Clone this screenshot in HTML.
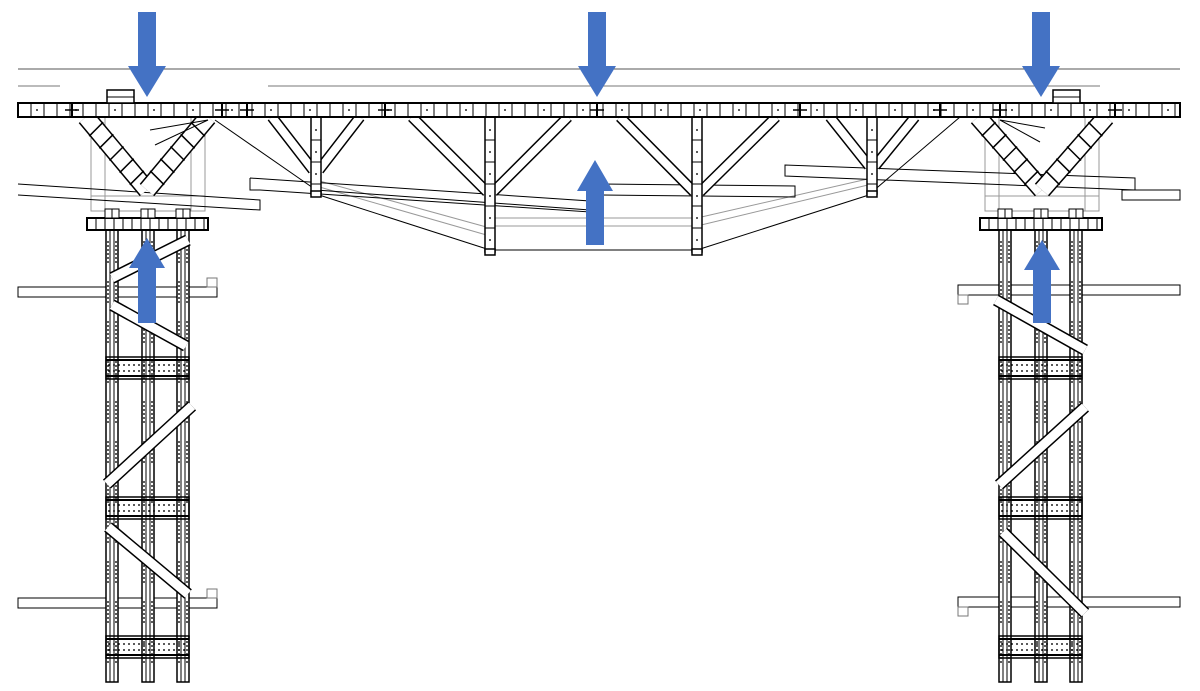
<!DOCTYPE html>
<html><head><meta charset="utf-8"><style>html,body{margin:0;padding:0;background:#fff;width:1200px;height:691px;overflow:hidden}svg{display:block}</style></head>
<body>
<svg id="s" width="1200" height="691" viewBox="0 0 1200 691" xmlns="http://www.w3.org/2000/svg">
<g fill="none" stroke="#000" stroke-width="1">
<line x1="18" y1="69" x2="1180" y2="69" stroke="#555"/>
<line x1="18" y1="86" x2="60" y2="86" stroke="#777"/>
<line x1="268" y1="86" x2="1100" y2="86" stroke="#777"/>
<g stroke="#999">
<rect x="91" y="117" width="114" height="94"/><line x1="105" y1="117" x2="105" y2="211"/><line x1="191" y1="117" x2="191" y2="211"/><line x1="91" y1="196" x2="205" y2="196"/>
<rect x="985" y="117" width="114" height="94"/><line x1="999" y1="117" x2="999" y2="211"/><line x1="1085" y1="117" x2="1085" y2="211"/><line x1="985" y1="196" x2="1099" y2="196"/>
<line x1="316" y1="180" x2="490" y2="228"/><line x1="316" y1="186" x2="490" y2="236"/><line x1="490" y1="218" x2="697" y2="218"/><line x1="490" y1="226" x2="697" y2="226"/><line x1="697" y1="218" x2="872" y2="178"/><line x1="697" y1="226" x2="872" y2="184"/>
</g>
<polyline points="18,184 260,200 260,210 18,195"/>
<polyline points="250,178 590,201 590,212 260,190 250,190 250,178"/>
<polyline points="602,184 795,186 795,197 602,195"/>
<polyline points="1135,190 785,176 785,165 1135,178 1135,190"/>
<rect x="1122" y="190" width="58" height="10"/>
<line x1="215" y1="120" x2="316" y2="190"/>
<line x1="960" y1="117" x2="872" y2="192"/>
<line x1="316" y1="194" x2="490" y2="250"/>
<line x1="316" y1="190" x2="590" y2="210"/>
<line x1="490" y1="250" x2="697" y2="250"/>
<line x1="697" y1="250" x2="872" y2="194"/>
<rect x="18" y="287" width="199" height="10"/><rect x="207" y="278" width="10" height="9" stroke="#777"/>
<rect x="18" y="598" width="199" height="10"/><rect x="207" y="589" width="10" height="9" stroke="#777"/>
<rect x="958" y="285" width="222" height="10"/><rect x="958" y="295" width="10" height="9" stroke="#777"/>
<rect x="958" y="597" width="222" height="10"/><rect x="958" y="607" width="10" height="9" stroke="#777"/>
</g>
<g id="dyn"></g>
<g fill="#4472C4">
<polygon points="138,12 156,12 156,66 166,66 147,97 128,66 138,66"/>
<polygon points="588,12 606,12 606,66 616,66 597,97 578,66 588,66"/>
<polygon points="1032,12 1050,12 1050,66 1060,66 1041,97 1022,66 1032,66"/>
<polygon points="586,245 604,245 604,191 613,191 595,160 577,191 586,191"/>
<polygon points="138,323 156,323 156,268 165,268 147,238 129,268 138,268"/>
<polygon points="1033,323 1051,323 1051,270 1060,270 1042,240 1024,270 1033,270"/>
</g>
</svg>
<script>
const g=document.getElementById('dyn');let h='';
function L(a,b,c,d,w,col){h+=`<line x1="${a}" y1="${b}" x2="${c}" y2="${d}" stroke="${col||'#000'}" stroke-width="${w||1}"/>`;}
function R(x,y,w,ht,f,sw){h+=`<rect x="${x}" y="${y}" width="${w}" height="${ht}" fill="${f||'#fff'}" stroke="#000" stroke-width="${sw||1}"/>`;}
function D(x,y){h+=`<rect x="${x-0.8}" y="${y-0.8}" width="1.6" height="1.6" fill="#000"/>`;}
function member(a,b,c,d,w){L(a,b,c,d,w+3);L(a,b,c,d,w,'#fff');}
function tower(cols,top,bot,bands,braces){
 cols.forEach(x=>{R(x,top,12,bot-top,'#fff',1.5);L(x+4,top,x+4,bot);L(x+8,top,x+8,bot);
  for(let y=top+8;y<bot;y+=4){if((y%40)<24){D(x+2,y);D(x+10,y);}}});
 bands.forEach(y=>{R(cols[0],y,cols[2]+12-cols[0],22,'none',1.5);L(cols[0],y+3,cols[2]+12,y+3,2);L(cols[0],y+19,cols[2]+12,y+19,2);
  for(let x=cols[0]+3;x<cols[2]+12;x+=5){D(x,y+8);D(x,y+14);}});
 braces.forEach(b=>{member(b[0],b[1],b[2],b[3],9);});
}
tower([106,142,177],230,682,[357,497,636],[[112,278,188,240],[112,305,186,346],[107,484,192,406],[108,527,188,594]]);
tower([999,1035,1070],230,682,[357,497,636],[[996,300,1085,350],[999,485,1085,407],[1003,532,1085,613]]);
function cap(x0,x1,cols){R(x0,218,x1-x0,12,'#fff',2);for(let x=x0+9;x<x1;x+=9)L(x,218,x,230);
 cols.forEach(c=>{R(c-1,209,14,9);L(c+6,209,c+6,218);});}
cap(87,208,[106,142,177]);cap(980,1102,[999,1035,1070]);
function V(cx,l,r){member(l,117,cx,190,16);member(r,117,cx,190,16);
 for(let i=1;i<6;i++){let t=i/6;let x1=l+(cx-l)*t,y1=117+73*t;L(x1-7,y1+7,x1+7,y1-7,1.5);let x2=r+(cx-r)*t;L(x2-7,y1-7,x2+7,y1+7,1.5);}}
V(147,86,208);V(1042,978,1106);
function truss(x,bot,l,r,jy){member(l,117,x-3,jy,8);member(r,117,x+3,jy,8);R(x-5,117,10,bot-117,'#fff',1.5);
 for(let y=140;y<bot;y+=22){L(x-5,y,x+5,y);D(x,y-10);}R(x-5,bot-3,10,6,'#fff',1.5);}
truss(316,194,272,360,170);truss(490,252,412,568,192);truss(697,252,620,776,192);truss(872,194,830,915,166);
R(18,103,1162,14,'#fff',2);
for(let x=18,i=0;x<1180;x+=13,i++){L(x,103,x,117,1);if(i%3==1)D(x+6,110);}
[[72,110],[222,110],[247,110],[385,110],[597,110],[800,110],[940,110],[1000,110],[1115,110]].forEach(p=>{L(p[0]-7,p[1],p[0]+7,p[1],1.5);L(p[0],103,p[0],117,2);});
R(107,90,27,13,'#fff',1.5);L(107,97,134,97);R(1053,90,27,13,'#fff',1.5);L(1053,97,1080,97);
L(208,120,150,130);L(208,120,155,145);L(1000,120,1045,128);L(1000,120,1040,142);
g.innerHTML=h;
</script>
</body></html>
